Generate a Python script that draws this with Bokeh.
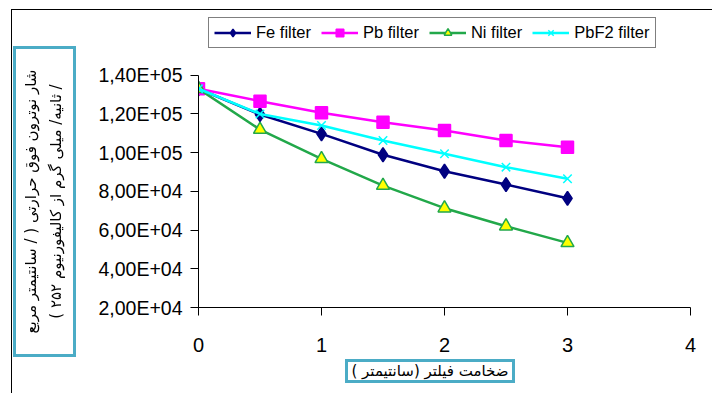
from bokeh.plotting import figure
from bokeh.models import Range1d, FixedTicker, Legend, LegendItem, Div
from bokeh.layouts import column
from bokeh.embed import file_html
from bokeh.resources import INLINE

# ---- data ----
thickness_cm = [0, 0.5, 1, 1.5, 2, 2.5, 3]
fe_filter = [133000, 119700, 109700, 98900, 90400, 83500, 76400]
pb_filter = [133000, 126600, 120600, 115700, 111400, 106300, 102800]
ni_filter = [133000, 111900, 96800, 83000, 71300, 62000, 53400]
pbf2_filter = [133000, 120000, 114000, 106300, 99400, 92500, 86500]

series_names = ["Fe filter", "Pb filter", "Ni filter", "PbF2 filter"]
y_ticks = [20000, 40000, 60000, 80000, 100000, 120000, 140000]
y_tick_labels = ["2,00E+04", "4,00E+04", "6,00E+04", "8,00E+04",
                 "1,00E+05", "1,20E+05", "1,40E+05"]
x_ticks = [0, 1, 2, 3, 4]

y_title_lines = ["شار نوترون فوق حرارتی ( / سانتیمتر مربع",
                 "/ ثانیه/ میلی گرم از کالیفورنیوم ۲۵۲ )"]
x_title = "ضخامت فیلتر (سانتیمتر )"

# frame spans from just below the top border down to the x axis; the y axis
# line itself is bounded to 2E+04..1,4E+05 and the legend sits in the headroom
p = figure(width=701, height=384, output_backend="svg", toolbar_location=None,
           x_range=Range1d(0, 4), y_range=Range1d(20000, 172400),
           min_border_left=186, min_border_right=23,
           min_border_top=2, min_border_bottom=87)
p.styles = {"margin-left": "11px", "margin-top": "9px",
            "border-left": "1px solid #000", "border-top": "1px solid #000"}
p.outline_line_color = None
p.xgrid.visible = False
p.ygrid.visible = False
p.background_fill_color = "white"
p.border_fill_color = "white"

# axes
p.xaxis.ticker = FixedTicker(ticks=x_ticks)
p.yaxis.ticker = FixedTicker(ticks=y_ticks)
p.yaxis.bounds = (y_ticks[0], y_ticks[-1])
p.yaxis.major_label_overrides = {t: l for t, l in zip(y_ticks, y_tick_labels)}
for ax in (p.xaxis, p.yaxis):
    ax.axis_line_color = "#000000"
    ax.major_tick_line_color = "#000000"
    ax.minor_tick_line_color = None
    ax.major_tick_in = 0
    ax.major_tick_out = 8
    ax.major_label_text_font = "Liberation Sans"
    ax.major_label_text_color = "#000000"
p.yaxis.major_label_text_font_size = "19.5px"
p.yaxis.major_label_standoff = 8
p.xaxis.major_label_text_font_size = "20px"
p.xaxis.major_label_standoff = 22

# series
styles = [
    (fe_filter, "#000080", "diamond", "#000080", "#000080", 14),
    (pb_filter, "#FF00FF", "square", "#FF00FF", "#FF00FF", 12),
    (ni_filter, "#22A84A", "triangle", "#FFFF00", "#22A84A", 13),
    (pbf2_filter, "#00FFFF", "x", "#00FFFF", "#00FFFF", 12),
]
items = []
for name, (vals, lc, marker, fc, mc, sz) in zip(series_names, styles):
    r1 = p.line(thickness_cm, vals, line_color=lc, line_width=2.5)
    r2 = p.scatter(thickness_cm, vals, marker=marker, size=sz,
                   fill_color=fc, line_color=mc, line_width=1.5)
    items.append(LegendItem(label=name, renderers=[r1, r2]))

legend = Legend(items=items, orientation="horizontal", location=(10, 259),
                label_text_font="Liberation Sans", label_text_font_size="16.5px",
                label_text_color="#000000",
                glyph_width=37, glyph_height=19, label_height=19,
                label_standoff=5, spacing=10, padding=5, margin=0,
                border_line_color="#000000", border_line_width=1,
                background_fill_color="white", background_fill_alpha=1.0)
p.add_layout(legend, "center")

# axis titles in teal boxes (HTML, fixed on the page)
box_css = ("position:fixed;box-sizing:border-box;border:3px solid #4BACC6;"
           "background:#fff;color:#000;font-family:'DejaVu Sans',sans-serif;"
           "direction:rtl;text-align:center;white-space:nowrap;margin:0;")
ydiv = Div(text=(f'<div style="{box_css}left:-111px;top:170px;width:311px;height:63px;'
                 f'transform:rotate(-90deg);transform-origin:50% 50%;'
                 f'font-size:15px;line-height:25px;padding-top:3px;">'
                 f'{y_title_lines[0]}<br>{y_title_lines[1]}</div>'),
           width=1, height=1,
           styles={"position": "absolute", "left": "0px", "top": "0px"})
xdiv = Div(text=(f'<div style="{box_css}left:345px;top:359px;width:170px;height:24px;'
                 f'font-size:15px;line-height:18px;">{x_title}</div>'),
           width=1, height=1,
           styles={"position": "absolute", "left": "0px", "top": "0px"})

root = column(p, ydiv, xdiv, spacing=0)
open("out.html", "w").write(file_html(root, INLINE))
